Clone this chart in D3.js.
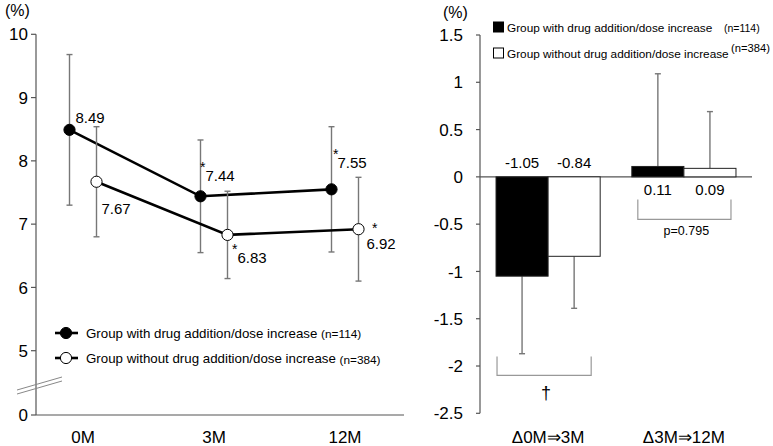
<!DOCTYPE html>
<html>
<head>
<meta charset="utf-8">
<script src="https://cdn.jsdelivr.net/npm/d3@7"></script>
<style>
  body { margin: 0; background: #fff; }
  svg { display: block; font-family: "Liberation Sans", Arial, Helvetica, sans-serif; }
</style>
</head>
<body>
<svg id="chart" width="773" height="446"></svg>
<script>
// left panel: HbA1c over time
var timepoints = ["0M", "3M", "12M"];
var groupNames = ["Group with drug addition/dose increase",
                  "Group without drug addition/dose increase"];
var groupN = ["(n=114)", "(n=384)"];
var hba1cWith = [8.49, 7.44, 7.55];
var sdWith = [1.19, 0.89, 0.99];
var hba1cWithout = [7.67, 6.83, 6.92];
var sdWithout = [0.87, 0.69, 0.82];
var sigWith = [false, true, true];
var sigWithout = [false, true, true];
var leftTicks = [0, 5, 6, 7, 8, 9, 10];

// right panel: change in HbA1c
var periods = ["\u03940M\u21d23M", "\u03943M\u21d212M"];
var changeWith = [-1.05, 0.11];
var changeSdWith = [0.82, 0.98];
var changeWithout = [-0.84, 0.09];
var changeSdWithout = [0.55, 0.60];
var rightTicks = [1.5, 1, 0.5, 0, -0.5, -1, -1.5, -2, -2.5];
var compareLabels = ["\u2020", "p=0.795"];

var svg = d3.select("#chart");
var axisColor = "#555",
    errColor = "#777",
    bracketColor = "#999";

// ---------- left panel ----------
var yL = d3.scaleLinear().domain([0, 5, 10]).range([415, 350.7, 34.3]);
var xL = d3.scalePoint().domain(timepoints).range([83, 345]);
var sub = d3.scalePoint().domain([0, 1]).range([-13.5, 13.5]);

var left = svg.append("g");

left.append("line")
    .attr("x1", 36).attr("x2", 36)
    .attr("y1", yL(10)).attr("y2", yL(0))
    .attr("stroke", axisColor).attr("stroke-width", 1.2);
left.append("line")
    .attr("x1", 36).attr("x2", 404)
    .attr("y1", yL(0)).attr("y2", yL(0))
    .attr("stroke", axisColor).attr("stroke-width", 1.2);

left.selectAll(".ytick")
    .data(leftTicks)
    .enter().append("line")
    .attr("x1", 31).attr("x2", 36)
    .attr("y1", function(d) { return yL(d); })
    .attr("y2", function(d) { return yL(d); })
    .attr("stroke", axisColor).attr("stroke-width", 1.2);

left.selectAll(".ylabel")
    .data(leftTicks)
    .enter().append("text")
    .attr("x", 28)
    .attr("y", function(d) { return yL(d); })
    .attr("dy", ".36em")
    .attr("text-anchor", "end")
    .style("font-size", "17px")
    .text(function(d) { return d; });

left.append("text").attr("x", 5).attr("y", 16).style("font-size", "16px").text("(%)");

// axis break marks
[0, 4].forEach(function(o) {
    left.append("line")
        .attr("x1", 17).attr("y1", 390 + o)
        .attr("x2", 62).attr("y2", 377 + o)
        .attr("stroke", "#888").attr("stroke-width", 1);
});

left.selectAll(".xlabel")
    .data(timepoints)
    .enter().append("text")
    .attr("x", function(d) { return xL(d); })
    .attr("y", 443)
    .attr("text-anchor", "middle")
    .style("font-size", "17px")
    .text(function(d) { return d; });

// label placement (dx, dy from the point) and asterisk placement (dx, dy from the label)
var series = [
    {mean: hba1cWith, sd: sdWith, sig: sigWith, fill: "#000",
     offsets: [[6, -7], [5, -15], [6, -21]],
     star: [null, [0, -9], [1, -9]]},
    {mean: hba1cWithout, sd: sdWithout, sig: sigWithout, fill: "#fff",
     offsets: [[5, 32], [10, 28], [8, 20]],
     star: [null, [0, -9], [11, -16.5]]}
];

series.forEach(function(s, gi) {
    var pts = s.mean.map(function(v, i) {
        return {x: xL(timepoints[i]) + sub(gi), y: yL(v), v: v, sd: s.sd[i],
                sig: s.sig[i], off: s.offsets[i], star: s.star[i]};
    });

    var g = left.append("g");
    // error bars
    pts.forEach(function(p) {
        var top = yL(p.v + p.sd), bot = yL(p.v - p.sd);
        g.append("line").attr("x1", p.x).attr("x2", p.x).attr("y1", top).attr("y2", bot)
            .attr("stroke", errColor).attr("stroke-width", 1.4);
        [top, bot].forEach(function(yy) {
            g.append("line").attr("x1", p.x - 3).attr("x2", p.x + 3).attr("y1", yy).attr("y2", yy)
                .attr("stroke", errColor).attr("stroke-width", 1.4);
        });
    });
    s.pts = pts;
    s.g = g;
});

series.forEach(function(s) {
    s.g.append("path")
        .datum(s.pts)
        .attr("d", d3.line().x(function(d) { return d.x; }).y(function(d) { return d.y; }))
        .attr("fill", "none").attr("stroke", "#000").attr("stroke-width", 2.6);
});

series.forEach(function(s) {
    s.g.selectAll("circle")
        .data(s.pts)
        .enter().append("circle")
        .attr("cx", function(d) { return d.x; })
        .attr("cy", function(d) { return d.y; })
        .attr("r", 5.6)
        .attr("fill", s.fill)
        .attr("stroke", "#000").attr("stroke-width", 1);

    s.pts.forEach(function(p) {
        var lx = p.x + p.off[0], ly = p.y + p.off[1];
        s.g.append("text").attr("x", lx).attr("y", ly)
            .style("font-size", "15px").text(p.v.toFixed(2));
        if (p.sig) {
            s.g.append("text").attr("x", lx + p.star[0]).attr("y", ly + p.star[1])
                .attr("text-anchor", "end")
                .style("font-size", "14px").text("*");
        }
    });
});

// left legend
series.forEach(function(s, gi) {
    var ly = 333 + gi * 25;
    left.append("line").attr("x1", 55).attr("x2", 78).attr("y1", ly).attr("y2", ly)
        .attr("stroke", "#000").attr("stroke-width", 2.6);
    left.append("circle").attr("cx", 66).attr("cy", ly).attr("r", 5.6)
        .attr("fill", s.fill).attr("stroke", "#000").attr("stroke-width", 1);
    var t = left.append("text").attr("x", 86).attr("y", ly + 4.5).style("font-size", "13.3px");
    t.append("tspan").text(groupNames[gi] + " ");
    t.append("tspan").attr("dy", gi ? 1.5 : 0.5).style("font-size", "11.8px").text(groupN[gi]);
});

// ---------- right panel ----------
var yR = d3.scaleLinear().domain([-2.5, 1.5]).range([413.3, 35]);
var xR = d3.scaleBand().domain(periods).range([480, 752]).paddingInner(0.233).paddingOuter(0.118);
var xSub = d3.scaleBand().domain([0, 1]).range([0, xR.bandwidth()]);

var right = svg.append("g");

right.append("line")
    .attr("x1", 480).attr("x2", 480)
    .attr("y1", yR(1.5)).attr("y2", yR(-2.5))
    .attr("stroke", axisColor).attr("stroke-width", 1.2);
right.append("line")
    .attr("x1", 480).attr("x2", 752)
    .attr("y1", yR(0)).attr("y2", yR(0))
    .attr("stroke", axisColor).attr("stroke-width", 1.2);

right.selectAll(".ytick")
    .data(rightTicks)
    .enter().append("line")
    .attr("x1", 476).attr("x2", 480)
    .attr("y1", function(d) { return yR(d); })
    .attr("y2", function(d) { return yR(d); })
    .attr("stroke", axisColor).attr("stroke-width", 1.2);

right.selectAll(".ylabel")
    .data(rightTicks)
    .enter().append("text")
    .attr("x", 463)
    .attr("y", function(d) { return yR(d); })
    .attr("dy", ".36em")
    .attr("text-anchor", "end")
    .style("font-size", "17px")
    .text(function(d) { return d; });

right.append("text").attr("x", 443).attr("y", 18).style("font-size", "16px").text("(%)");

right.selectAll(".xlabel")
    .data(periods)
    .enter().append("text")
    .attr("x", function(d) { return xR(d) + xR.bandwidth() / 2; })
    .attr("y", 443)
    .attr("text-anchor", "middle")
    .style("font-size", "17px")
    .text(function(d) { return d; });

var bars = [
    {vals: changeWith, sd: changeSdWith, fill: "#000"},
    {vals: changeWithout, sd: changeSdWithout, fill: "#fff"}
];

bars.forEach(function(b, gi) {
    b.vals.forEach(function(v, i) {
        var x0 = xR(periods[i]) + xSub(gi), w = xSub.bandwidth(), cx = x0 + w / 2;
        var end = v < 0 ? v - b.sd[i] : v + b.sd[i];
        right.append("line").attr("x1", cx).attr("x2", cx)
            .attr("y1", yR(v)).attr("y2", yR(end))
            .attr("stroke", errColor).attr("stroke-width", 1.4);
        right.append("line").attr("x1", cx - 3).attr("x2", cx + 3)
            .attr("y1", yR(end)).attr("y2", yR(end))
            .attr("stroke", errColor).attr("stroke-width", 1.4);
        right.append("rect")
            .attr("x", x0).attr("width", w)
            .attr("y", yR(Math.max(0, v)))
            .attr("height", Math.abs(yR(v) - yR(0)))
            .attr("fill", b.fill).attr("stroke", "#222").attr("stroke-width", 1);
        right.append("text")
            .attr("x", cx)
            .attr("y", v < 0 ? yR(0) - 9 : yR(0) + 18)
            .attr("text-anchor", "middle")
            .style("font-size", "15px")
            .text(v.toFixed(2));
    });
});

// comparison brackets
var bracketInset = [[1, 9], [6, 5]],
    bracketTop = [-1.9, -0.24],
    bracketBottom = [-2.1, -0.45],
    bracketText = [-2.35, -0.62],
    bracketSize = ["18px", "12.5px"];

periods.forEach(function(p, i) {
    var x1 = xR(p) + bracketInset[i][0], x2 = xR(p) + xR.bandwidth() - bracketInset[i][1];
    right.append("path")
        .attr("d", "M" + x1 + "," + yR(bracketTop[i]) + "V" + yR(bracketBottom[i]) +
                   "H" + x2 + "V" + yR(bracketTop[i]))
        .attr("fill", "none").attr("stroke", bracketColor).attr("stroke-width", 1.2);
    right.append("text")
        .attr("x", (x1 + x2) / 2 + 2)
        .attr("y", yR(bracketText[i]))
        .attr("text-anchor", "middle")
        .style("font-size", bracketSize[i])
        .text(compareLabels[i]);
});

// right legend
bars.forEach(function(b, gi) {
    var ly = 27 + gi * 26;
    right.append("rect").attr("x", 493.5).attr("y", ly - 5).attr("width", 10).attr("height", 10)
        .attr("fill", b.fill).attr("stroke", "#000").attr("stroke-width", 1);
    right.append("text").attr("x", 507).attr("y", ly + 4.5)
        .style("font-size", "11.8px").text(groupNames[gi]);
    right.append("text").attr("x", gi ? 731 : 724).attr("y", gi ? ly - 1 : ly + 4.5)
        .style("font-size", gi ? "11.2px" : "10.5px").text(groupN[gi]);
});
</script>
</body>
</html>
